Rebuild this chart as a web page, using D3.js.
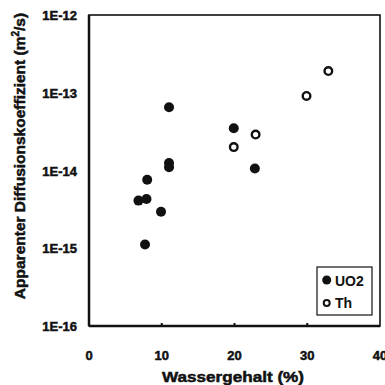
<!DOCTYPE html>
<html>
<head>
<meta charset="utf-8">
<script src="https://cdn.jsdelivr.net/npm/d3@7"></script>
<style>
  body { margin: 0; background: #fff; }
  text { font-family: "Liberation Sans", Arial, sans-serif; font-weight: bold; fill: #111; }
  .heavy { stroke: #111; stroke-width: 0.5; }
</style>
</head>
<body>
<svg id="chart" width="385" height="385"></svg>
<script>
// UO2 (filled) series
var uo2Water = [11, 11, 11, 8, 6.8, 7.9, 9.9, 7.7, 19.9, 22.8];
var uo2Diff = [6.5e-14, 1.1e-14, 1.25e-14, 7.6e-15, 4.1e-15, 4.3e-15, 2.95e-15, 1.12e-15, 3.5e-14, 1.06e-14];
// Th (open) series
var thWater = [19.9, 22.9, 29.9, 32.9];
var thDiff = [2.0e-14, 2.9e-14, 9.1e-14, 1.9e-13];

var xTicks = [0, 10, 20, 30, 40];
var yTicks = [1e-16, 1e-15, 1e-14, 1e-13, 1e-12];
var yTickLabels = ["1E-16", "1E-15", "1E-14", "1E-13", "1E-12"];

var svg = d3.select("#chart");
var plotL = 89, plotR = 380, plotT = 15, plotB = 326;

var x = d3.scaleLinear().domain([0, 40]).range([plotL, plotR]);
var y = d3.scaleLog().domain([1e-16, 1e-12]).range([plotB, plotT]);

// frame
svg.append("rect")
    .attr("x", plotL).attr("y", plotT)
    .attr("width", plotR - plotL).attr("height", plotB - plotT)
    .attr("fill", "none").attr("stroke", "#111").attr("stroke-width", 1.6);
svg.append("line").attr("x1", plotL).attr("x2", plotL).attr("y1", plotT).attr("y2", plotB)
    .attr("stroke", "#111").attr("stroke-width", 2.5);
svg.append("line").attr("x1", plotL).attr("x2", plotR).attr("y1", plotB).attr("y2", plotB)
    .attr("stroke", "#111").attr("stroke-width", 2.5);

// x ticks (small, inside) and labels
svg.selectAll(".xt").data(xTicks.slice(1, 4)).enter().append("line")
    .attr("x1", function(d) { return x(d); }).attr("x2", function(d) { return x(d); })
    .attr("y1", plotB).attr("y2", plotB - 3)
    .attr("stroke", "#111").attr("stroke-width", 2);
svg.selectAll(".xl").data(xTicks).enter().append("text")
    .attr("class", "heavy")
    .attr("x", function(d) { return x(d); })
    .attr("y", 360)
    .attr("text-anchor", "middle")
    .attr("font-size", 13)
    .text(function(d) { return d; });

// y labels
svg.selectAll(".yl").data(yTicks).enter().append("text")
    .attr("class", "heavy")
    .attr("x", 77)
    .attr("y", function(d) { return y(d) + 5; })
    .attr("text-anchor", "end")
    .attr("font-size", 13)
    .text(function(d, i) { return yTickLabels[i]; });

// axis titles
svg.append("text")
    .attr("class", "heavy")
    .attr("x", 233).attr("y", 382)
    .attr("text-anchor", "middle").attr("font-size", 15)
    .attr("textLength", 142).attr("lengthAdjust", "spacingAndGlyphs")
    .text("Wassergehalt (%)");
var yt = svg.append("text")
    .attr("class", "heavy")
    .attr("transform", "translate(25,156) rotate(-90)")
    .attr("text-anchor", "middle").attr("font-size", 15.5);
yt.append("tspan").text("Apparenter Diffusionskoeffizient (m");
yt.append("tspan").attr("dy", -6).attr("font-size", 10).text("2");
yt.append("tspan").attr("dy", 6).text("/s)");

// points
svg.selectAll(".uo2").data(uo2Water).enter().append("circle")
    .attr("cx", function(d) { return x(d); })
    .attr("cy", function(d, i) { return y(uo2Diff[i]); })
    .attr("r", 5).attr("fill", "#111");
svg.selectAll(".th").data(thWater).enter().append("circle")
    .attr("cx", function(d) { return x(d); })
    .attr("cy", function(d, i) { return y(thDiff[i]); })
    .attr("r", 3.8).attr("fill", "#fff").attr("stroke", "#111").attr("stroke-width", 2.4);

// legend
var lg = svg.append("g").attr("transform", "translate(317,267)");
lg.append("rect").attr("width", 55).attr("height", 48)
    .attr("fill", "#fff").attr("stroke", "#111").attr("stroke-width", 1.2);
lg.append("circle").attr("cx", 9.7).attr("cy", 13).attr("r", 4.5).attr("fill", "#111");
lg.append("text").attr("x", 18).attr("y", 19).attr("font-size", 14).attr("font-weight", "normal").text("UO2");
lg.append("circle").attr("cx", 9.7).attr("cy", 36).attr("r", 3).attr("fill", "#fff")
    .attr("stroke", "#111").attr("stroke-width", 2);
lg.append("text").attr("x", 18).attr("y", 41).attr("font-size", 14).attr("font-weight", "normal").text("Th");
</script>
</body>
</html>
